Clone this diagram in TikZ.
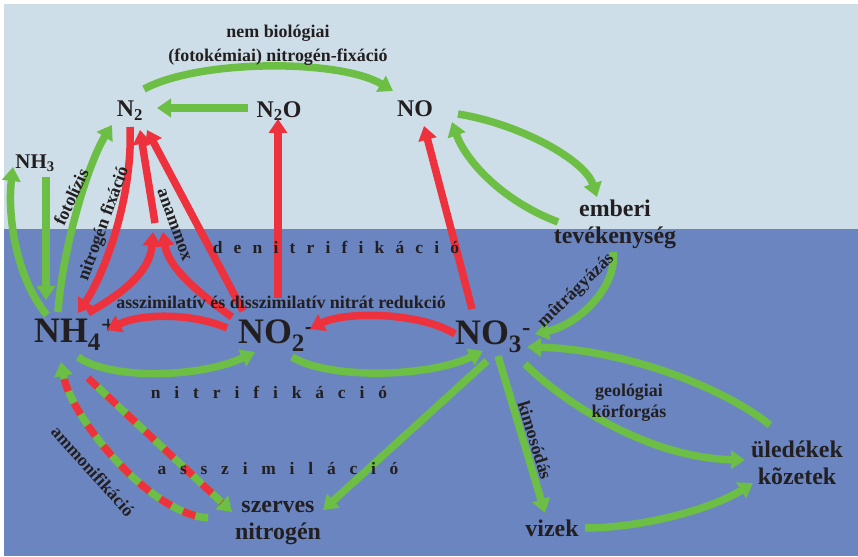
\documentclass[tikz,border=0pt]{standalone}
\usepackage{fontspec}
\setmainfont{Liberation Serif}
\usetikzlibrary{arrows.meta}
\definecolor{skyblue}{RGB}{205,222,232}
\definecolor{seablue}{RGB}{106,133,192}
\definecolor{leaf}{RGB}{108,190,69}
\definecolor{brick}{RGB}{237,50,62}
\definecolor{ink}{RGB}{35,31,32}
\begin{document}
\begin{tikzpicture}[x=1bp,y=-1bp,
  garrow/.style={draw=leaf,line width=7.5bp,-{Triangle[length=14bp,width=18bp]}},
  rarrow/.style={draw=brick,line width=7.5bp,-{Triangle[length=14bp,width=18bp]}},
  mixdash/.style={draw=brick,line width=7.5bp,dash pattern=on 13bp off 13bp,shorten >=14bp},
  chem/.style={text=ink,font=\bfseries\fontsize{24}{26}\selectfont,inner sep=0pt},
  bigchem/.style={chem,font=\bfseries\fontsize{36}{40}\selectfont},
  placebox/.style={text=ink,font=\bfseries\fontsize{24}{27}\selectfont,align=center,inner sep=0pt},
  lbl/.style={text=ink,font=\bfseries\fontsize{18}{21}\selectfont,align=center,inner sep=0pt},
  spaced/.style={text=ink,font=\bfseries\fontsize{17.5}{21}\selectfont,inner sep=0pt}]
\useasboundingbox (0,0) rectangle (858,557);
\fill[white] (0,0) rectangle (858,557);
\fill[skyblue] (4,4) rectangle (858,229);
\fill[seablue] (4,229) rectangle (858,556);

\node[chem] (ntwo) at (130,111) {N\textsubscript{2}};
\node[chem] (ntwoo) at (279,111) {N\textsubscript{2}O};
\node[chem] (no) at (415,109) {NO};
\node[chem,font=\bfseries\fontsize{21}{24}\selectfont] (nhthree) at (35,163) {NH\textsubscript{3}};
\node[bigchem] (nhfour) at (75,335) {NH\textsubscript{4}\textsuperscript{+}};
\node[bigchem] (notwo) at (276,336) {NO\textsubscript{2}\textsuperscript{-}};
\node[bigchem] (nothree) at (493,337) {NO\textsubscript{3}\textsuperscript{-}};
\node[placebox] (ember) at (615,224) {emberi\\tevékenység};
\node[placebox] (szerves) at (278,523) {szerves\\nitrogén};
\node[placebox] (vizek) at (552,528) {vizek};
\node[placebox] (uledek) at (797,463) {üledékek\\kõzetek};
\coordinate (anam) at (158,228);

\draw[garrow] ([shift={(14,-22)}]ntwo.center) .. controls +(56,-30) and +(-53,-32) .. ([shift={(-22,-18)}]no.center);
\draw[garrow] ([shift={(-31,-3)}]ntwoo.center) -- ([shift={(27,-3)}]ntwo.center);
\draw[garrow] ([shift={(43,5)}]no.center) .. controls +(62,10) and +(-12,-37) .. ([shift={(-18,-27)}]ember.center);
\draw[garrow] ([shift={(-57,-2)}]ember.center) .. controls +(-58,-22) and +(13,37) .. ([shift={(37,13)}]no.center);
\draw[garrow] ([shift={(-2,28)}]ember.center) .. controls +(5,33) and +(45,-10) .. ([shift={(42,-3)}]nothree.center);
\draw[garrow] ([shift={(-27,-38)}]uledek.center) .. controls +(-50,-40) and +(93,2) .. ([shift={(34,10)}]nothree.center);
\draw[garrow] ([shift={(32,27)}]nothree.center) .. controls +(40,40) and +(-95,-2) .. ([shift={(-52,-3)}]uledek.center);
\draw[garrow] ([shift={(5,19)}]nothree.center) -- ([shift={(-7,-15)}]vizek.center);
\draw[garrow] ([shift={(33,0)}]vizek.center) .. controls +(55,0) and +(-43,27) .. ([shift={(-44,20)}]uledek.center);
\draw[garrow] ([shift={(-6,24)}]nothree.center) -- ([shift={(45,-13)}]szerves.center);
\draw[garrow] ([shift={(16,21)}]notwo.center) .. controls +(38,23) and +(-53,26) .. ([shift={(-10,14)}]nothree.center);
\draw[garrow] ([shift={(3,22)}]nhfour.center) .. controls +(32,23) and +(-55,26) .. ([shift={(-21,16)}]notwo.center);
\draw[garrow] ([shift={(11,14)}]nhthree.center) -- ([shift={(-29,-35)}]nhfour.center);
\draw[garrow] ([shift={(-28,-20)}]nhfour.center) .. controls +(-30,-35) and +(-6,50) .. ([shift={(-22,4)}]nhthree.center);
\draw[garrow] ([shift={(-17,-23)}]nhfour.center) .. controls +(4,-60) and +(-25,40) .. ([shift={(-18,14)}]ntwo.center);

\draw[rarrow] ([shift={(0,16)}]ntwo.center) .. controls +(3,70) and +(27,-40) .. ([shift={(3,-22)}]nhfour.center);
\draw[rarrow] ([shift={(-3,-5)}]anam) -- ([shift={(10,19)}]ntwo.center);
\draw[rarrow] ([shift={(13,-22)}]nhfour.center) .. controls +(35,-20) and +(-3,40) .. ([shift={(-5,4)}]anam);
\draw[rarrow] ([shift={(-44,-19)}]notwo.center) .. controls +(-35,-25) and +(5,35) .. ([shift={(5,4)}]anam);
\draw[rarrow] ([shift={(-33,-25)}]notwo.center) -- ([shift={(17,19)}]ntwo.center);
\draw[rarrow] ([shift={(2,-38)}]notwo.center) -- ([shift={(-1,8)}]ntwoo.center);
\draw[rarrow] ([shift={(-49,-8)}]notwo.center) .. controls +(-35,-15) and +(35,-17) .. ([shift={(32,-5)}]nhfour.center);
\draw[rarrow] ([shift={(-38,-3)}]nothree.center) .. controls +(-35,-22) and +(35,-18) .. ([shift={(34,-7)}]notwo.center);
\draw[rarrow] ([shift={(-21,-28)}]nothree.center) -- ([shift={(9,17)}]no.center);

\draw[garrow] ([shift={(13,43)}]nhfour.center) -- ([shift={(-46,-11)}]szerves.center);
\draw[mixdash] ([shift={(13,43)}]nhfour.center) -- ([shift={(-46,-11)}]szerves.center);
\draw[garrow] ([shift={(-70,-5)}]szerves.center) .. controls +(-60,-5) and +(10,55) .. ([shift={(-14,27)}]nhfour.center);
\draw[mixdash,dash phase=13bp] ([shift={(-70,-5)}]szerves.center) .. controls +(-60,-5) and +(10,55) .. ([shift={(-14,27)}]nhfour.center);

\node[lbl,font=\bfseries\fontsize{18}{24}\selectfont] (lnem) at (278,45) {nem biológiai\\(fotokémiai) nitrogén-fixáció};
\node[spaced] (ldenit) at (336,247) {\spaceskip=11.2bp d e n i t r i f i k á c i ó};
\node[lbl] (lnitrat) at (281,302) {asszimilatív és disszimilatív nitrát redukció};
\node[spaced] (lnitrif) at (269,392) {\spaceskip=13.9bp n i t r i f i k á c i ó};
\node[spaced] (lasszim) at (278,469) {\spaceskip=13.8bp a s s z i m i l á c i ó};
\node[lbl,rotate=65] (lfoto) at (71,197) {fotolízis};
\node[lbl,rotate=70] (lfix) at (104,224) {nitrogén fixáció};
\node[lbl,rotate=-70] (lanam) at (174,225) {anammox};
\node[lbl,rotate=-48] (lammon) at (93,471) {ammonifikáció};
\node[lbl,rotate=44] (lmutr) at (576,291) {mûtrágyázás};
\node[lbl,rotate=-73] (lkimos) at (535,440) {kimosódás};
\node[lbl] (lgeol) at (629,403) {geológiai\\körforgás};
\end{tikzpicture}
\end{document}
